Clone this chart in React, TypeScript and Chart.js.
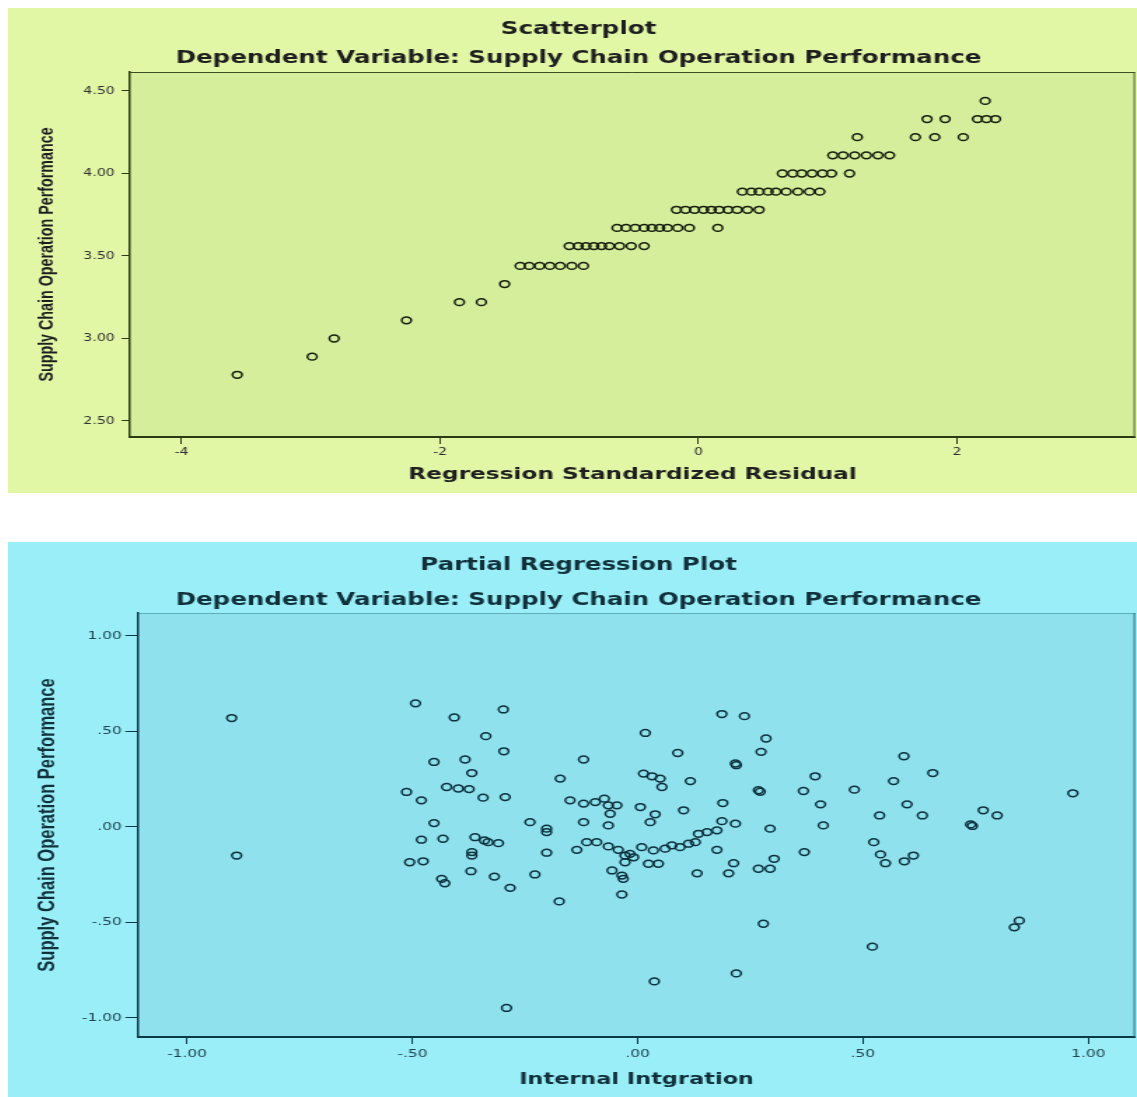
import React, { useEffect, useRef } from 'react';
import { Chart, registerables } from 'chart.js';

Chart.register(...registerables);

// ---------------- Top chart: Scatterplot ----------------
const TOP_RESIDUAL = [
  2.22,
  1.77, 1.91, 2.16, 2.23, 2.30,
  1.23, 1.68, 1.83, 2.05,
  1.04, 1.12, 1.21, 1.30, 1.39, 1.48,
  0.65, 0.73, 0.80, 0.88, 0.96, 1.03, 1.17,
  0.34, 0.41, 0.47, 0.54, 0.60, 0.68, 0.77, 0.86, 0.94,
  -0.17, -0.10, -0.03, 0.04, 0.10, 0.16, 0.23, 0.30, 0.38, 0.47,
  -0.63, -0.56, -0.49, -0.42, -0.36, -0.30, -0.24, -0.16, -0.07, 0.15,
  -1.00, -0.93, -0.87, -0.81, -0.75, -0.69, -0.61, -0.52, -0.42,
  -1.38, -1.31, -1.23, -1.15, -1.07, -0.98, -0.89,
  -1.50,
  -1.85, -1.68,
  -2.26,
  -2.82,
  -2.99,
  -3.57,
];
const TOP_PERFORMANCE = [
  4.44,
  4.33, 4.33, 4.33, 4.33, 4.33,
  4.22, 4.22, 4.22, 4.22,
  4.11, 4.11, 4.11, 4.11, 4.11, 4.11,
  4.00, 4.00, 4.00, 4.00, 4.00, 4.00, 4.00,
  3.89, 3.89, 3.89, 3.89, 3.89, 3.89, 3.89, 3.89, 3.89,
  3.78, 3.78, 3.78, 3.78, 3.78, 3.78, 3.78, 3.78, 3.78, 3.78,
  3.67, 3.67, 3.67, 3.67, 3.67, 3.67, 3.67, 3.67, 3.67, 3.67,
  3.56, 3.56, 3.56, 3.56, 3.56, 3.56, 3.56, 3.56, 3.56,
  3.44, 3.44, 3.44, 3.44, 3.44, 3.44, 3.44,
  3.33,
  3.22, 3.22,
  3.11,
  3.00,
  2.89,
  2.78,
];
const TOP_X_RANGE = [-4.40, 3.38];
const TOP_Y_RANGE = [2.403, 4.615];
const TOP_X_TICKS = [-4, -2, 0, 2];
const TOP_X_TICK_LABELS = ['-4', '-2', '0', '2'];
const TOP_Y_TICKS = [4.5, 4.0, 3.5, 3.0, 2.5];
const TOP_Y_TICK_LABELS = ['4.50', '4.00', '3.50', '3.00', '2.50'];

// ---------------- Bottom chart: Partial Regression Plot ----------------
const PARTIAL_INTEGRATION = [
  -0.901, -0.890, -0.493, -0.407, -0.298, -0.337, -0.297, -0.452, -0.383, -0.368,
  -0.513, -0.480, -0.424, -0.398, -0.374, -0.343, -0.294, -0.452, -0.480, -0.432,
  -0.361, -0.340, -0.332, -0.309, -0.368, -0.368, -0.506, -0.476, -0.435, -0.428,
  -0.370, -0.318, -0.283, -0.228, -0.239, -0.202, -0.202, -0.202, -0.174, -0.172,
  -0.120, -0.150, -0.120, -0.094, -0.074, -0.065, -0.046, -0.061, -0.120, -0.065,
  -0.135, -0.113, -0.091, -0.065, -0.043, -0.028, -0.017, -0.028, -0.057, -0.035,
  -0.032, -0.035, 0.017, 0.089, 0.013, 0.032, 0.050, 0.054, 0.117, 0.006,
  0.039, 0.028, 0.102, 0.009, 0.035, 0.061, 0.076, 0.094, 0.113, 0.128,
  0.135, -0.009, 0.024, 0.046, 0.132, 0.187, 0.237, 0.285, 0.274, 0.217,
  0.219, 0.268, 0.272, 0.394, 0.368, 0.481, 0.591, 0.655, 0.568, 0.406,
  0.598, 0.537, 0.632, 0.767, 0.798, 0.739, 0.743, 0.189, 0.187, 0.217,
  0.154, 0.176, 0.294, 0.412, 0.176, 0.524, 0.539, 0.550, 0.592, 0.612,
  0.370, 0.303, 0.213, 0.202, 0.268, 0.294, 0.279, 0.521, 0.847, 0.836,
  0.219, 0.037, -0.291, 0.966,
];
const PARTIAL_PERFORMANCE = [
  0.570, -0.150, 0.647, 0.573, 0.615, 0.475, 0.396, 0.340, 0.353, 0.282,
  0.183, 0.139, 0.209, 0.201, 0.198, 0.153, 0.156, 0.020, -0.067, -0.062,
  -0.054, -0.071, -0.080, -0.085, -0.132, -0.150, -0.185, -0.180, -0.272, -0.295,
  -0.232, -0.260, -0.319, -0.249, 0.025, -0.009, -0.027, -0.135, -0.390, 0.253,
  0.353, 0.139, 0.122, 0.130, 0.148, 0.113, 0.113, 0.069, 0.025, 0.008,
  -0.120, -0.080, -0.080, -0.102, -0.120, -0.150, -0.141, -0.185, -0.228, -0.255,
  -0.272, -0.354, 0.492, 0.387, 0.279, 0.265, 0.253, 0.209, 0.240, 0.104,
  0.066, 0.025, 0.087, -0.106, -0.123, -0.114, -0.097, -0.106, -0.088, -0.080,
  -0.036, -0.159, -0.193, -0.193, -0.243, 0.591, 0.580, 0.463, 0.393, 0.332,
  0.323, 0.192, 0.184, 0.265, 0.188, 0.195, 0.370, 0.282, 0.240, 0.118,
  0.118, 0.060, 0.060, 0.087, 0.060, 0.013, 0.005, 0.125, 0.030, 0.017,
  -0.027, -0.018, -0.009, 0.008, -0.120, -0.080, -0.144, -0.190, -0.180, -0.150,
  -0.132, -0.167, -0.190, -0.243, -0.219, -0.219, -0.507, -0.627, -0.491, -0.526,
  -0.767, -0.809, -0.948, 0.176,
];
const PARTIAL_X_RANGE = [-1.109, 1.104];
const PARTIAL_Y_RANGE = [-1.10, 1.12];
const PARTIAL_X_TICKS = [-1, -0.5, 0, 0.5, 1];
const PARTIAL_X_TICK_LABELS = ['-1.00', '-.50', '.00', '.50', '1.00'];
const PARTIAL_Y_TICKS = [1, 0.5, 0, -0.5, -1];
const PARTIAL_Y_TICK_LABELS = ['1.00', '.50', '.00', '-.50', '-1.00'];

// ---------------- layout / style ----------------
const PANEL_W = 1129;
const INNER_W = 806; // canvas drawing width; stretched horizontally to the panel width
const STRETCH = PANEL_W / INNER_W;

const frameplugin = {
  id: 'plotFrame',
  beforeDraw(chart: any, _a: any, opts: any) {
    const { ctx, chartArea: a } = chart;
    if (!a) return;
    ctx.save();
    ctx.fillStyle = opts.fill;
    ctx.fillRect(a.left, a.top, a.right - a.left, a.bottom - a.top);
    ctx.restore();
  },
  afterDraw(chart: any, _a: any, opts: any) {
    const { ctx, chartArea: a } = chart;
    if (!a) return;
    ctx.save();
    ctx.lineWidth = 1;
    ctx.strokeStyle = opts.topColor;
    ctx.beginPath();
    ctx.moveTo(a.left, a.top + 0.5);
    ctx.lineTo(a.right, a.top + 0.5);
    ctx.stroke();
    ctx.strokeStyle = opts.rightColor;
    ctx.beginPath();
    ctx.moveTo(a.right - 0.5, a.top);
    ctx.lineTo(a.right - 0.5, a.bottom);
    ctx.stroke();
    ctx.restore();
  },
};

function makeConfig(s: any) {
  return {
    type: 'scatter',
    data: {
      datasets: [
        {
          data: s.xs.map((x: number, i: number) => ({ x, y: s.ys[i] })),
          pointStyle: 'circle',
          pointRadius: 3.4,
          pointBorderWidth: 1.5,
          pointBackgroundColor: 'rgba(0,0,0,0)',
          pointBorderColor: s.markColor,
          showLine: false,
        },
      ],
    },
    options: {
      responsive: false,
      maintainAspectRatio: false,
      animation: false,
      devicePixelRatio: 1,
      events: [],
      layout: { autoPadding: false, padding: { top: 0, left: 10, right: 1.4, bottom: 0 } },
      plugins: {
        legend: { display: false },
        tooltip: { enabled: false },
        title: {
          display: true,
          text: s.title,
          color: s.textColor,
          font: { family: 'DejaVu Sans', weight: 'bold', size: 17.5, lineHeight: s.titleLine / 17.5 },
          padding: s.titlePad,
        },
        plotFrame: { fill: s.plotFill, topColor: s.topEdge, rightColor: s.rightEdge },
      },
      scales: {
        x: {
          type: 'linear',
          min: s.xRange[0],
          max: s.xRange[1],
          afterBuildTicks: (sc: any) => {
            sc.ticks = s.xTicks.map((v: number) => ({ value: v }));
          },
          afterFit: (sc: any) => {
            sc.height = s.xAxisH;
          },
          ticks: {
            autoSkip: false,
            maxRotation: 0,
            minRotation: 0,
            padding: s.xTickPad,
            color: s.tickColor,
            font: { family: 'DejaVu Sans', size: s.tickSize },
            callback: (_v: any, i: number) => s.xTickLabels[i],
          },
          grid: { display: true, drawOnChartArea: false, drawTicks: true, tickLength: 7, color: s.axisColor, lineWidth: 1 },
          border: { display: true, color: s.axisColor, width: 2 },
          title: {
            display: true,
            text: s.xTitle,
            color: s.textColor,
            font: { family: 'DejaVu Sans', weight: 'bold', size: s.xTitleSize, lineHeight: 1.2 },
            padding: { top: 0, bottom: s.xTitlePad },
          },
        },
        y: {
          type: 'linear',
          min: s.yRange[0],
          max: s.yRange[1],
          afterBuildTicks: (sc: any) => {
            sc.ticks = s.yTicks.map((v: number) => ({ value: v }));
          },
          afterFit: (sc: any) => {
            sc.width = s.yAxisW;
          },
          ticks: {
            autoSkip: false,
            padding: s.yTickPad,
            color: s.tickColor,
            font: { family: 'DejaVu Sans', size: s.tickSize },
            callback: (_v: any, i: number) => s.yTickLabels[i],
          },
          grid: { display: true, drawOnChartArea: false, drawTicks: true, tickLength: s.yTickLen, color: s.axisColor, lineWidth: 1 },
          border: { display: true, color: s.axisColor, width: 1.5 },
          title: {
            display: true,
            text: 'Supply Chain Operation Performance',
            color: s.textColor,
            font: { family: 'Liberation Sans', weight: 'bold', size: s.yTitleSize, lineHeight: 1.2 },
            padding: { top: s.yTitlePad, bottom: 0 },
          },
        },
      },
    },
    plugins: [frameplugin],
  };
}

const TOP_SPEC = {
  xs: TOP_RESIDUAL,
  ys: TOP_PERFORMANCE,
  xRange: TOP_X_RANGE,
  yRange: TOP_Y_RANGE,
  xTicks: TOP_X_TICKS,
  xTickLabels: TOP_X_TICK_LABELS,
  yTicks: TOP_Y_TICKS,
  yTickLabels: TOP_Y_TICK_LABELS,
  title: ['Scatterplot', 'Dependent Variable: Supply Chain Operation Performance'],
  titleLine: 29,
  titlePad: { top: 7, bottom: -1 },
  xTitle: 'Regression Standardized Residual',
  xTitleSize: 16.6,
  xTitlePad: 8,
  xAxisH: 56,
  xTickPad: 2,
  yAxisW: 77.1,
  yTickLen: 6,
  yTickPad: 5,
  yTitleSize: 14.3,
  yTitlePad: 9.3,
  tickSize: 10,
  markColor: '#161d0c',
  axisColor: '#2a3a14',
  textColor: '#1e1e1e',
  tickColor: '#2e2e2e',
  plotFill: '#d5ee9c',
  topEdge: '#3b4d22',
  rightEdge: '#4a5e2c',
};

const BOTTOM_SPEC = {
  xs: PARTIAL_INTEGRATION,
  ys: PARTIAL_PERFORMANCE,
  xRange: PARTIAL_X_RANGE,
  yRange: PARTIAL_Y_RANGE,
  xTicks: PARTIAL_X_TICKS,
  xTickLabels: PARTIAL_X_TICK_LABELS,
  yTicks: PARTIAL_Y_TICKS,
  yTickLabels: PARTIAL_Y_TICK_LABELS,
  title: ['Partial Regression Plot', 'Dependent Variable: Supply Chain Operation Performance'],
  titleLine: 35,
  titlePad: { top: 5.5, bottom: -4.5 },
  xTitle: 'Internal Intgration',
  xTitleSize: 16,
  xTitlePad: 7.4,
  xAxisH: 60,
  xTickPad: 4,
  yAxisW: 82.8,
  yTickLen: 9,
  yTickPad: 2.5,
  yTitleSize: 16.5,
  yTitlePad: 8.7,
  tickSize: 11,
  markColor: '#0b303c',
  axisColor: '#0b3a47',
  textColor: '#10303a',
  tickColor: '#23434d',
  plotFill: '#8fe1ee',
  topEdge: 'rgba(40,110,125,0.45)',
  rightEdge: '#2c6a78',
};

function Panel({ spec, top, height, bg }: any) {
  const ref = useRef<HTMLCanvasElement | null>(null);
  useEffect(() => {
    if (!ref.current) return;
    const chart = new Chart(ref.current, makeConfig(spec) as any);
    return () => chart.destroy();
  }, [spec]);
  return (
    <div
      style={{
        position: 'absolute',
        left: 8,
        top,
        width: PANEL_W,
        height,
        background: bg,
        overflow: 'hidden',
      }}
    >
      <div
        style={{
          width: INNER_W,
          height,
          transform: `scaleX(${STRETCH})`,
          transformOrigin: '0 0',
        }}
      >
        <canvas
          ref={ref}
          width={INNER_W}
          height={height}
          style={{ display: 'block', width: INNER_W, height }}
        />
      </div>
    </div>
  );
}

export default function App() {
  return (
    <div
      style={{
        position: 'fixed',
        left: 0,
        top: 0,
        width: 1137,
        height: 1097,
        overflow: 'hidden',
        background: '#ffffff',
      }}
    >
      <Panel spec={TOP_SPEC} top={8} height={485} bg="#e1f7a6" />
      <Panel spec={BOTTOM_SPEC} top={542} height={555} bg="#99eef8" />
    </div>
  );
}
